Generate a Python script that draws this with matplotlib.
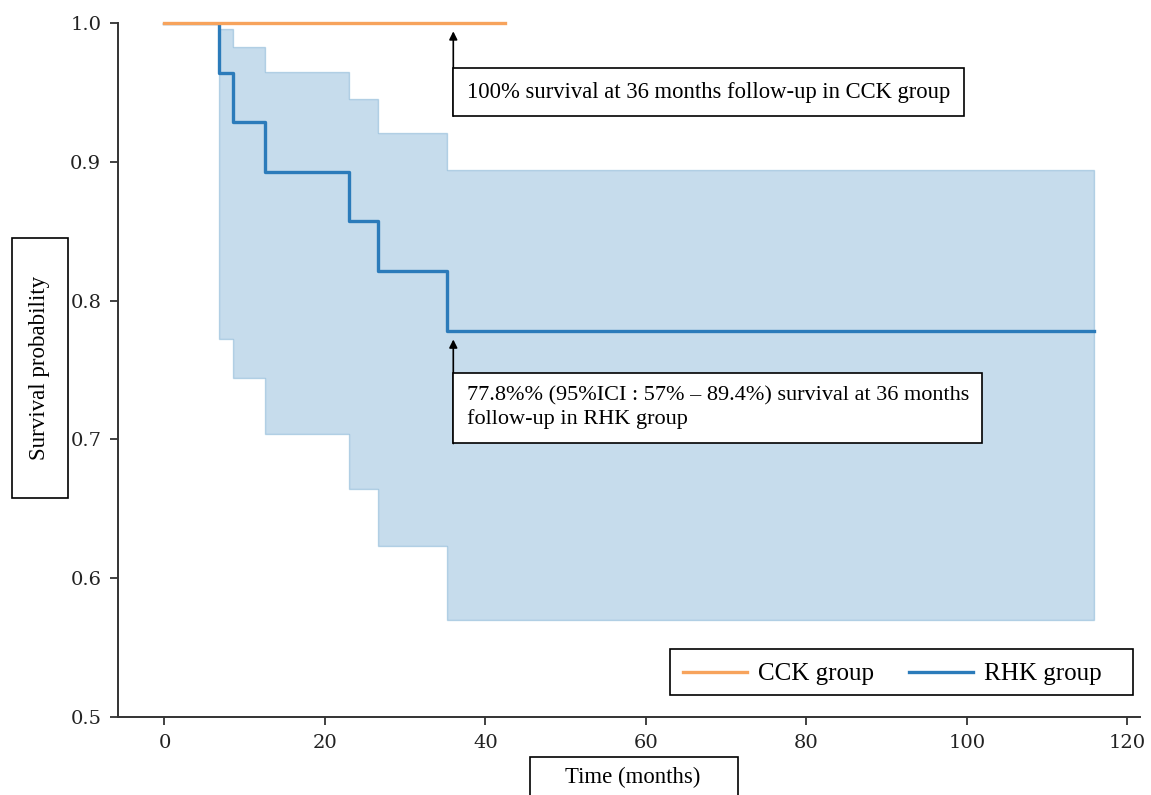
import matplotlib.pyplot as plt
from matplotlib.patches import Rectangle

# Kaplan-Meier estimates (time in months)
cck_time = [0, 42.5]
cck_surv = [1.0, 1.0]

rhk_time = [0, 6.8, 8.6, 12.5, 23.0, 26.6, 35.2, 115.8]
rhk_surv = [1.0, 0.964, 0.929, 0.893, 0.857, 0.821, 0.778, 0.778]
rhk_ci_low = [1.0, 0.772, 0.744, 0.704, 0.664, 0.623, 0.570, 0.570]
rhk_ci_high = [1.0, 0.996, 0.983, 0.965, 0.945, 0.921, 0.894, 0.894]

x_ticks = [0, 20, 40, 60, 80, 100, 120]
y_ticks = [0.5, 0.6, 0.7, 0.8, 0.9, 1.0]

cck_note = '100% survival at 36 months follow-up in CCK group'
rhk_note = '77.8%% (95%ICI : 57% \u2013 89.4%) survival at 36 months\nfollow-up in RHK group'

W, H = 1151, 795
SERIF = 'Liberation Serif'
ORANGE = '#f7a35c'
BLUE = '#2b7bba'


def fig_box(x0, y0, x1, y1, **kw):
    """Rectangle given in pixel coords (origin top left) of the figure."""
    rect = Rectangle((x0 / W, 1 - y1 / H), (x1 - x0) / W, (y1 - y0) / H,
                     transform=fig.transFigure, ec='black', lw=1.2, **kw)
    fig.add_artist(rect)
    return rect


fig = plt.figure(figsize=(W / 100, H / 100), dpi=100)
ax = fig.add_axes([118 / W, 1 - 717 / H, (1140 - 118) / W, (717 - 23) / H])

ax.fill_between(rhk_time, rhk_ci_low, rhk_ci_high, step='post',
                color='#1f77b4', alpha=0.25, lw=1)
ax.step(rhk_time, rhk_surv, where='post', color=BLUE, lw=2.4, label='RHK group')
ax.plot(cck_time, cck_surv, color=ORANGE, lw=2.4, clip_on=False, label='CCK group')

ax.set_ylim(0.5, 1.0)
ax.set_xticks(x_ticks)
ax.set_yticks(y_ticks)
ax.set_yticklabels([f'{v:.1f}' for v in y_ticks])
for side in ('top', 'right'):
    ax.spines[side].set_visible(False)
for side in ('left', 'bottom'):
    ax.spines[side].set_color('#333333')
    ax.spines[side].set_linewidth(1.4)
ax.tick_params(direction='out', length=6, width=1.3, color='#333333',
               labelsize=14, labelcolor='#222222', pad=6)
for lab in ax.get_xticklabels() + ax.get_yticklabels():
    lab.set_family('DejaVu Serif')

# annotations with arrows pointing at the 36 month values
box = dict(boxstyle='square,pad=0.6', fc='white', ec='black', lw=1.2)
arrow = dict(arrowstyle='-|>', color='black', lw=1.2, shrinkA=0, shrinkB=6,
             mutation_scale=12)
ax.annotate('', xy=(36, 1.0), xytext=(36, 0.933), arrowprops=arrow)
ax.annotate(cck_note, xy=(36, 0.950), xytext=(9.8, 0), textcoords='offset points',
            ha='left', va='center', fontsize=16.3, family=SERIF, bbox=box)
ax.annotate('', xy=(36, 0.778), xytext=(36, 0.697), arrowprops=arrow)
ax.annotate(rhk_note, xy=(36, 0.7226), xytext=(9.6, 0), textcoords='offset points',
            ha='left', va='center', fontsize=16, family=SERIF, bbox=box,
            linespacing=1.25)

# legend entries without frame; the (wider) frame is drawn separately
leg_order = [1, 0]
handles, labels = ax.get_legend_handles_labels()
ax.legend([handles[i] for i in leg_order], [labels[i] for i in leg_order],
          ncol=2, loc='lower left', bbox_to_anchor=(0.543, 0.031),
          borderaxespad=0, frameon=False,
          handlelength=2.56, handletextpad=0.45, columnspacing=1.4,
          prop={'family': SERIF, 'size': 18})
fig_box(670, 649, 1133, 695, fill=False)

# axis titles drawn in boxes, as in the original
fig_box(12, 238, 68, 498, fc='white')
fig.text(40 / W, 1 - 368 / H, 'Survival probability', rotation=90,
         ha='center', va='center', fontsize=16.6, family=SERIF)
fig_box(530, 757, 738, 830, fill=False)
fig.text(633 / W, 1 - 777 / H, 'Time (months)', ha='center', va='center',
         fontsize=16.4, family=SERIF)

fig.savefig('out.png', dpi=100)
